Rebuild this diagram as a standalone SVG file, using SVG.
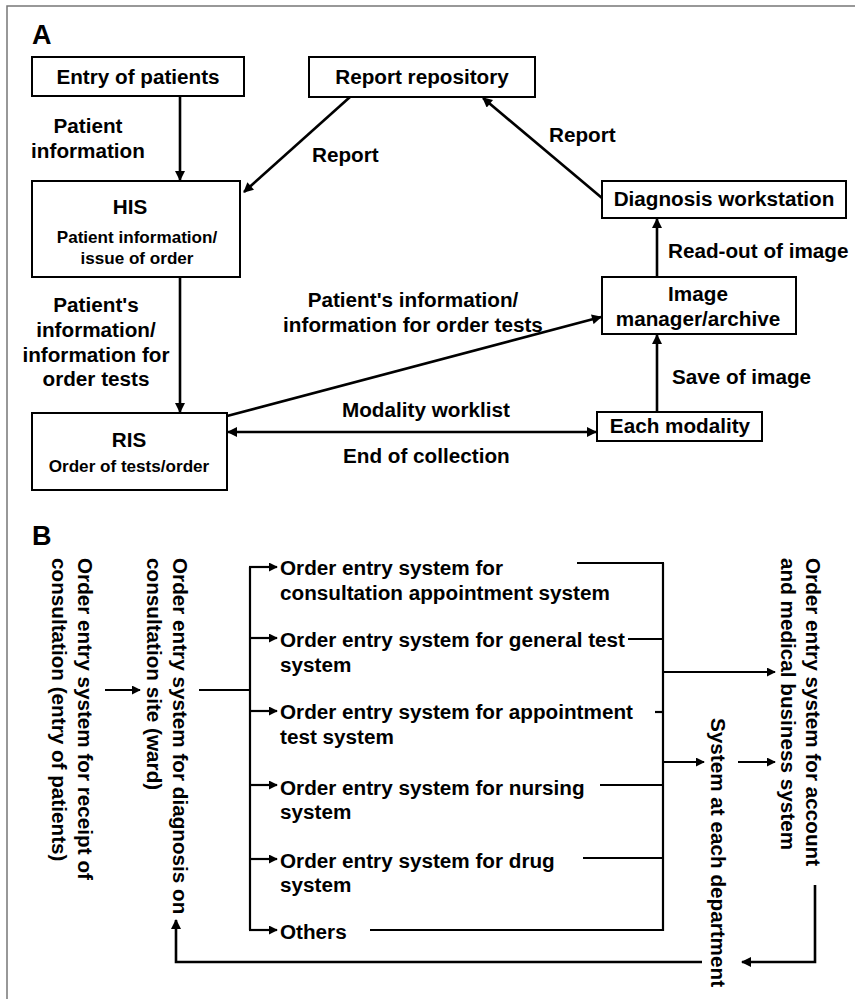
<svg xmlns="http://www.w3.org/2000/svg" width="855" height="999" viewBox="0 0 855 999">
<style>
text{font-family:"Liberation Sans",Arial,sans-serif;font-weight:bold;fill:#000}
.t{font-size:20.7px}
.s{font-size:17.1px}
.c{text-anchor:middle}
.big{font-size:27px}
.box{fill:#fff;stroke:#000;stroke-width:2}
.la{fill:none;stroke:#000;stroke-width:2.6}
.lb{fill:none;stroke:#000;stroke-width:2.2}
</style>
<defs>
<marker id="ah" viewBox="0 0 10 10" refX="9" refY="5" markerWidth="11" markerHeight="10" markerUnits="userSpaceOnUse" orient="auto-start-reverse">
<path d="M0,0 L10,5 L0,10 z" fill="#000"/>
</marker>
<marker id="bh" viewBox="0 0 10 10" refX="9" refY="5" markerWidth="9" markerHeight="9" markerUnits="userSpaceOnUse" orient="auto">
<path d="M0,0 L10,5 L0,10 z" fill="#000"/>
</marker>
</defs>
<rect x="7" y="6" width="860" height="1010" fill="#fff" stroke="#777" stroke-width="1.5"/>
<text class="big" x="32" y="44">A</text>
<text class="big" x="32" y="545">B</text>

<g id="entry"><rect class="box" x="32" y="57" width="212" height="39"/><text class="t c" x="138" y="84">Entry of patients</text></g>
<g id="repository"><rect class="box" x="309" y="57" width="226" height="40"/><text class="t c" x="422" y="84">Report repository</text></g>
<g id="his"><rect class="box" x="32" y="181" width="208" height="96"/><text class="t c" x="130" y="214">HIS</text><text class="s c" x="137" y="243">Patient information/</text><text class="s c" x="137" y="264">issue of order</text></g>
<g id="diagnosis"><rect class="box" x="602" y="181" width="244" height="37"/><text class="t c" x="724" y="206">Diagnosis workstation</text></g>
<g id="image-manager"><rect class="box" x="602" y="277" width="194" height="57"/><text class="t c" x="698" y="301">Image</text><text class="t c" x="698" y="326">manager/archive</text></g>
<g id="modality"><rect class="box" x="597" y="412" width="165" height="29"/><text class="t c" x="680" y="433">Each modality</text></g>
<g id="ris"><rect class="box" x="32" y="413" width="195" height="77"/><text class="t c" x="129" y="447">RIS</text><text class="s c" x="129" y="472">Order of tests/order</text></g>

<g id="connectors-a">
<line class="la" x1="180" y1="96" x2="180" y2="180" marker-end="url(#ah)"/>
<line class="la" x1="350" y1="97" x2="244" y2="192" marker-end="url(#ah)"/>
<line class="la" x1="602" y1="198" x2="483" y2="98" marker-end="url(#ah)"/>
<line class="la" x1="657" y1="277" x2="657" y2="219" marker-end="url(#ah)"/>
<line class="la" x1="657" y1="412" x2="657" y2="335" marker-end="url(#ah)"/>
<line class="la" x1="180" y1="277" x2="180" y2="412" marker-end="url(#ah)"/>
<line class="la" x1="227" y1="416" x2="601" y2="317" marker-end="url(#ah)"/>
<line class="la" x1="228" y1="432" x2="596" y2="432" marker-start="url(#ah)" marker-end="url(#ah)"/>
</g>
<g id="labels-a">
<text class="t c" x="88" y="133">Patient</text>
<text class="t c" x="88" y="158">information</text>
<text class="t" x="312" y="162">Report</text>
<text class="t" x="549" y="142">Report</text>
<text class="t" x="668" y="258">Read-out of image</text>
<text class="t" x="672" y="384">Save of image</text>
<text class="t" x="342" y="417">Modality worklist</text>
<text class="t" x="343" y="463">End of collection</text>
<text class="t c" x="413" y="307">Patient's information/</text>
<text class="t c" x="413" y="332">information for order tests</text>
<text class="t c" x="96" y="312">Patient's</text>
<text class="t c" x="96" y="337">information/</text>
<text class="t c" x="96" y="362">information for</text>
<text class="t c" x="96" y="386">order tests</text>
</g>

<g id="receipt"><text class="t" transform="translate(78,558) rotate(90)">Order entry system for receipt of</text><text class="t" transform="translate(52,558) rotate(90)">consultation (entry of patients)</text></g>
<g id="diagnosis-site"><text class="t" transform="translate(173,558) rotate(90)">Order entry system for diagnosis on</text><text class="t" transform="translate(147,558) rotate(90)">consultation site (ward)</text></g>
<g id="item1"><text class="t" x="280" y="575">Order entry system for</text><text class="t" x="280" y="600">consultation appointment system</text></g>
<g id="item2"><text class="t" x="280" y="647">Order entry system for general test</text><text class="t" x="280" y="672">system</text></g>
<g id="item3"><text class="t" x="280" y="719">Order entry system for appointment</text><text class="t" x="280" y="744">test system</text></g>
<g id="item4"><text class="t" x="280" y="795">Order entry system for nursing</text><text class="t" x="280" y="819">system</text></g>
<g id="item5"><text class="t" x="280" y="868">Order entry system for drug</text><text class="t" x="280" y="892">system</text></g>
<g id="item6"><text class="t" x="280" y="939">Others</text></g>
<g id="account"><text class="t" transform="translate(806,558) rotate(90)">Order entry system for account</text><text class="t" transform="translate(781,558) rotate(90)">and medical business system</text></g>
<g id="department"><text class="t" transform="translate(711,718) rotate(90)">System at each department</text></g>

<g id="connectors-b">
<line class="lb" x1="105" y1="690" x2="140" y2="690" marker-end="url(#bh)"/>
<line class="lb" x1="199" y1="690" x2="250" y2="690"/>
<line class="lb" x1="250" y1="567" x2="250" y2="930"/>
<line class="lb" x1="249" y1="567" x2="277" y2="567" marker-end="url(#bh)"/>
<line class="lb" x1="249" y1="638" x2="277" y2="638" marker-end="url(#bh)"/>
<line class="lb" x1="249" y1="711" x2="277" y2="711" marker-end="url(#bh)"/>
<line class="lb" x1="249" y1="785" x2="277" y2="785" marker-end="url(#bh)"/>
<line class="lb" x1="249" y1="859" x2="277" y2="859" marker-end="url(#bh)"/>
<line class="lb" x1="249" y1="930" x2="277" y2="930" marker-end="url(#bh)"/>
<line class="lb" x1="577" y1="563" x2="664" y2="563"/>
<line class="lb" x1="628" y1="639" x2="664" y2="639"/>
<line class="lb" x1="655" y1="712" x2="664" y2="712"/>
<line class="lb" x1="600" y1="785" x2="664" y2="785"/>
<line class="lb" x1="583" y1="858" x2="664" y2="858"/>
<line class="lb" x1="370" y1="930" x2="664" y2="930"/>
<line class="lb" x1="663" y1="563" x2="663" y2="931"/>
<line class="lb" x1="663" y1="672" x2="775" y2="672" marker-end="url(#bh)"/>
<line class="lb" x1="663" y1="762" x2="704" y2="762" marker-end="url(#bh)"/>
<line class="lb" x1="738" y1="762" x2="775" y2="762" marker-end="url(#bh)"/>
<polyline class="la" points="815,885 815,962 742,962" marker-end="url(#ah)"/>
<polyline class="la" points="702,962 176,962 176,920" marker-end="url(#ah)"/>
</g>
</svg>
